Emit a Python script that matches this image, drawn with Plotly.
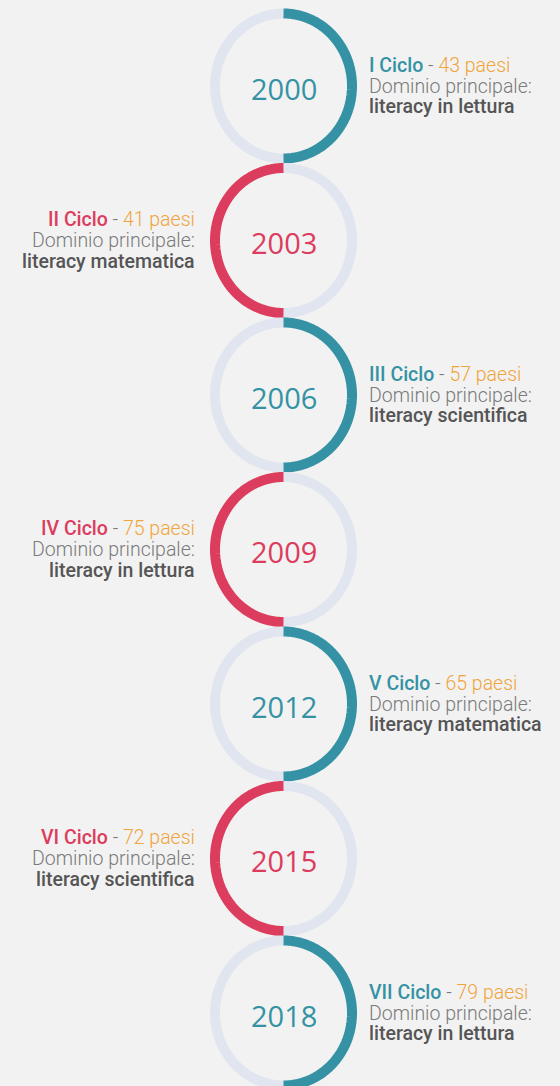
import numpy as np
import plotly.graph_objects as go

# ---- data ----
years = [2000, 2003, 2006, 2009, 2012, 2015, 2018]
cycles = ["I", "II", "III", "IV", "V", "VI", "VII"]
countries = [43, 41, 57, 75, 65, 72, 79]
domains = ["literacy in lettura", "literacy matematica", "literacy scientifica",
           "literacy in lettura", "literacy matematica", "literacy scientifica",
           "literacy in lettura"]

# ---- style / layout ----
W, H = 560, 1086
BG = "#f2f2f2"
TEAL = "#3592a5"
RED = "#dc3c5d"
GRAY_RING = "#e1e5ef"
ORANGE = "#f0a43a"
TXT_LIGHT = "#7a7a7a"
TXT_DARK = "#555555"
CX = 283.5
CY0 = 86.0
STEP = 154.5
RX, RY = 68.5, 72.5
RING_W = 10
LABEL_FONT = "Roboto, Liberation Sans, sans-serif"
YEAR_FONT = "Open Sans, Lato, sans-serif"

fig = go.Figure()
annotations = []

def arc(cx, cy, a0, a1, color):
    t = np.radians(np.linspace(a0, a1, 181))
    fig.add_trace(go.Scatter(
        x=cx + RX * np.cos(t), y=cy - RY * np.sin(t),
        mode="lines", line=dict(color=color, width=RING_W, simplify=False),
        hoverinfo="skip", showlegend=False))

for i, yr in enumerate(years):
    cy = CY0 + i * STEP
    right = (i % 2 == 0)
    col = TEAL if right else RED
    if right:
        arc(CX, cy, 90, 270, GRAY_RING)
        arc(CX, cy, 90, -90, col)
    else:
        arc(CX, cy, 90, -90, GRAY_RING)
        arc(CX, cy, 90, 270, col)
    annotations.append(dict(
        x=CX, y=cy + 2, xref="x", yref="y", text=str(yr), showarrow=False,
        xanchor="center", yanchor="middle",
        font=dict(family=YEAR_FONT, size=29, color=col)))
    tx = 367 if right else 197
    anc = "left" if right else "right"
    lines = [
        (f"<span style='color:{col};font-weight:500'>{cycles[i]} Ciclo</span>"
         f"<span style='color:{TXT_LIGHT}'> - </span>"
         f"<span style='color:{ORANGE}'>{countries[i]} paesi</span>", -21, TXT_LIGHT, 19.5, 300),
        ("Dominio principale:", 0, TXT_LIGHT, 19.5, 300),
        (domains[i], 20.5, TXT_DARK, 19.5, 500),
    ]
    for txt, dy, c, fs, fw in lines:
        annotations.append(dict(
            x=tx, y=cy + dy, xref="x", yref="y", text=txt, showarrow=False,
            xanchor=anc, yanchor="middle",
            font=dict(family=LABEL_FONT, size=fs, color=c, weight=fw)))

fig.update_layout(
    width=W, height=H, margin=dict(l=0, r=0, t=0, b=0),
    paper_bgcolor=BG, plot_bgcolor=BG,
    xaxis=dict(range=[0, W], visible=False, fixedrange=True),
    yaxis=dict(range=[H, 0], visible=False, fixedrange=True),
    annotations=annotations, showlegend=False)

fig.write_html("out.html", config={"displayModeBar": False},
               post_script="document.body.style.margin='0';document.body.style.overflow='hidden';")
